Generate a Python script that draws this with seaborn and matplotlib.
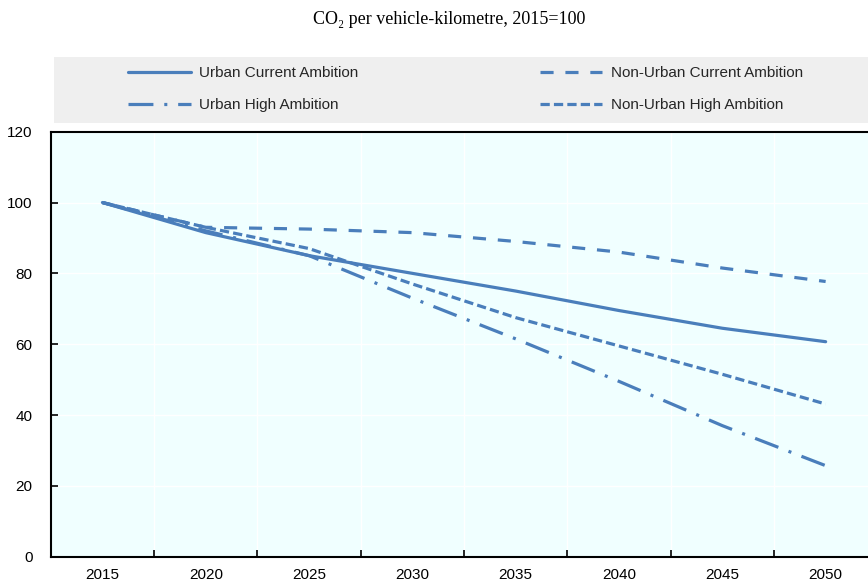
import numpy as np
import pandas as pd
import seaborn as sns
import matplotlib
matplotlib.use("Agg")
import matplotlib.pyplot as plt
from matplotlib import font_manager
from matplotlib.patches import Rectangle
from matplotlib.ticker import FixedLocator

# ---- data: CO2 per vehicle-km index (2015 = 100) ----
years = [2015, 2020, 2025, 2030, 2035, 2040, 2045, 2050]
urban_current = [100, 91.5, 85.0, 80.0, 75.0, 69.5, 64.5, 60.7]
nonurban_current = [100, 93.0, 92.5, 91.5, 89.0, 86.0, 81.5, 77.7]
urban_high = [100, 92.0, 85.0, 73.0, 61.5, 49.5, 37.0, 25.7]
nonurban_high = [100, 93.0, 87.0, 77.0, 67.5, 59.5, 51.5, 43.1]

series_names = [
    "Urban Current Ambition",
    "Non-Urban Current Ambition",
    "Urban High Ambition",
    "Non-Urban High Ambition",
]
series_values = [urban_current, nonurban_current, urban_high, nonurban_high]
y_ticks = [0, 20, 40, 60, 80, 100, 120]
title = "CO\u2082 per vehicle-kilometre, 2015=100"

# ---- styling ----
sns.set_theme(style="white")


def first_font(cands):
    for c in cands:
        try:
            font_manager.findfont(font_manager.FontProperties(family=c),
                                  fallback_to_default=False)
            return c
        except Exception:
            continue
    return None


narrow = first_font(["Liberation Sans Narrow", "Arial Narrow"])
sans = first_font(["Liberation Sans", "Arial"]) or "DejaVu Sans"
serif = first_font(["Liberation Serif", "Times New Roman"]) or "DejaVu Serif"

if narrow:
    label_font = narrow
    tick_size, legend_size = 13, 12.5
else:
    label_font = sans
    tick_size, legend_size = 11, 11
plt.rcParams["font.family"] = [label_font, "DejaVu Sans"]

line_color = "#4a7ebb"
lw = 2.3
# dash patterns in units of line width
styles = {
    "Urban Current Ambition": "-",
    "Non-Urban Current Ambition": (0, (4.1, 3.7)),
    "Urban High Ambition": (0, (7.8, 3.4, 0.95, 3.4)),
    "Non-Urban High Ambition": (0, (2.9, 1.3)),
}

fig = plt.figure(figsize=(8.68, 5.85), dpi=100)
fig.patch.set_facecolor("white")

# grey legend band
fig.patches.append(Rectangle((0.0619, 0.7903), 0.94, 0.1128,
                             transform=fig.transFigure, facecolor="#efefef",
                             edgecolor="none", zorder=0))

ax = fig.add_axes([0.0585, 0.0484, 0.9415, 0.7265])
ax.set_facecolor("#f0ffff")

handles = {}
for name, vals in zip(series_names, series_values):
    df = pd.DataFrame({"year": years, "value": vals})
    sns.lineplot(data=df, x="year", y="value", ax=ax, color=line_color,
                 linewidth=lw, linestyle=styles[name], legend=False)
    ln = ax.lines[-1]
    ln.set_dash_capstyle("butt")
    ln.set_solid_capstyle("round")
    handles[name] = ln

ax.set_xlim(2012.5, 2052.05)
ax.set_ylim(0, 120)
ax.set_xlabel("")
ax.set_ylabel("")

ax.xaxis.set_major_locator(FixedLocator(years))
ax.set_xticklabels([str(y) for y in years])
ax.xaxis.set_minor_locator(FixedLocator([y + 2.5 for y in years[:-1]]))
ax.set_yticks(y_ticks)
ax.set_yticklabels([str(v) for v in y_ticks])

ax.tick_params(axis="x", which="major", length=0, pad=8, labelsize=tick_size,
               colors="black")
ax.tick_params(axis="x", which="minor", direction="in", length=5, width=1.2,
               color="black", bottom=True)
ax.tick_params(axis="y", which="major", direction="in", length=5, width=1.2,
               color="black", left=True, pad=13, labelsize=tick_size,
               labelcolor="black")

ax.grid(False)
ax.grid(axis="y", which="major", color="white", linewidth=1.0)
ax.grid(axis="x", which="minor", color="white", linewidth=1.0)
ax.set_axisbelow(True)

for side in ["left", "bottom", "top"]:
    ax.spines[side].set_visible(True)
    ax.spines[side].set_color("black")
    ax.spines[side].set_linewidth(1.5)
ax.spines["right"].set_visible(False)

# two legend columns inside the grey band
legend_px = legend_size * 100 / 72
leg_kw = dict(loc="center left", frameon=False, fontsize=legend_size,
              handlelength=62.5 / legend_px,
              handletextpad=8.5 / legend_px,
              labelspacing=1.19, borderpad=0, borderaxespad=0)
left_names = ["Urban Current Ambition", "Urban High Ambition"]
right_names = ["Non-Urban Current Ambition", "Non-Urban High Ambition"]
leg1 = fig.legend([handles[n] for n in left_names], left_names,
                  bbox_to_anchor=(0.148, 0.8475), **leg_kw)
leg2 = fig.legend([handles[n] for n in right_names], right_names,
                  bbox_to_anchor=(0.622, 0.8475), **leg_kw)

fig.text(0.518, 0.966, title, ha="center", va="center", fontsize=13,
         family=[serif, "DejaVu Serif"], color="black")

fig.savefig("out.png", dpi=100, facecolor="white")
